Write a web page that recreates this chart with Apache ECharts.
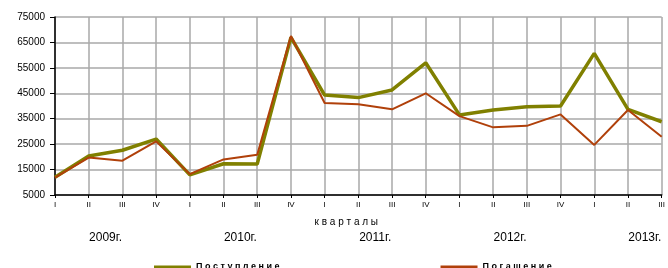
<!DOCTYPE html>
<html><head><meta charset="utf-8">
<script src="https://cdn.jsdelivr.net/npm/echarts@6/dist/echarts.min.js"></script>
<style>html,body{margin:0;padding:0;background:#fff}#c{width:668px;height:268px}</style>
</head><body><div id="c"></div>
<script>
var quarters = ['I','II','III','IV','I','II','III','IV','I','II','III','IV','I','II','III','IV','I','II','III'];
var years = ['2009г.','2010г.','2011г.','2012г.','2013г.'];
var yearPositions = [1.5, 5.5, 9.5, 13.5, 17.5];
var postuplenie = [12000,20300,22600,27000,12900,17300,17200,67000,44300,43300,46300,57000,36500,38400,39700,40000,60700,38700,33800];
var pogashenie  = [11800,19700,18500,26100,13200,19000,20800,67500,41200,40700,38700,45000,36000,31600,32200,36700,24700,38400,27900];
var seriesNames = ['Поступление','Погашение'];
var seriesColors = ['#808000','#b0400a'];
var yTicks = {min:5000, max:75000, interval:10000};

var chart = echarts.init(document.getElementById('c'), null, {renderer:'canvas'});
var font = 'Arial, "Liberation Sans", sans-serif';
chart.setOption({
  animation:false,
  backgroundColor:'#fff',
  grid:{left:55, right:2, top:17, bottom:73, containLabel:false},
  legend:{
    left:149, top:256, itemWidth:37, itemHeight:3, itemGap:161,
    textStyle:{fontFamily:font, fontSize:9, color:'#000', fontWeight:'bold', lineHeight:12},
    formatter:function(n){return n.split('').join(' ');},
    data:[{name:seriesNames[0], icon:'rect', itemStyle:{color:seriesColors[0]}},
          {name:seriesNames[1], icon:'rect', itemStyle:{color:seriesColors[1]}}]
  },
  xAxis:[{
    type:'category', data:quarters, boundaryGap:false,
    axisLine:{lineStyle:{color:'#000', width:1.5}},
    axisTick:{show:true, length:3, lineStyle:{color:'#000'}},
    axisLabel:{fontFamily:font, fontSize:8, color:'#000', margin:6, interval:0},
    splitLine:{show:true, lineStyle:{color:'#a8a8a8', width:1.5}},
    name:'к в а р т а л ы', nameLocation:'middle', nameGap:22,
    nameTextStyle:{fontFamily:font, fontSize:10, color:'#000', padding:[0,24,0,0]}
  },{
    type:'value', min:0, max:18, position:'bottom', offset:29,
    axisLine:{show:false}, axisTick:{show:false}, splitLine:{show:false},
    axisLabel:{customValues:yearPositions, fontFamily:font, fontSize:12, color:'#000', margin:8,
      formatter:function(v){var i=yearPositions.indexOf(v);return i>=0?years[i]:'';}}
  }],
  yAxis:{
    type:'value', min:yTicks.min, max:yTicks.max, interval:yTicks.interval,
    axisLine:{show:true, lineStyle:{color:'#000', width:1.5}},
    axisTick:{show:true, length:5, lineStyle:{color:'#000'}},
    axisLabel:{fontFamily:font, fontSize:10, color:'#000', margin:10, formatter:function(v){return String(v);}},
    splitLine:{show:true, lineStyle:{color:'#a8a8a8', width:1.5}}
  },
  series:[{
    name:seriesNames[0], type:'line', data:postuplenie, symbol:'none', xAxisIndex:0,
    lineStyle:{color:seriesColors[0], width:3.5}, itemStyle:{color:seriesColors[0]}, z:2
  },{
    name:seriesNames[1], type:'line', data:pogashenie, symbol:'none', xAxisIndex:0,
    lineStyle:{color:seriesColors[1], width:2}, itemStyle:{color:seriesColors[1]}, z:3
  }]
});
</script></body></html>
